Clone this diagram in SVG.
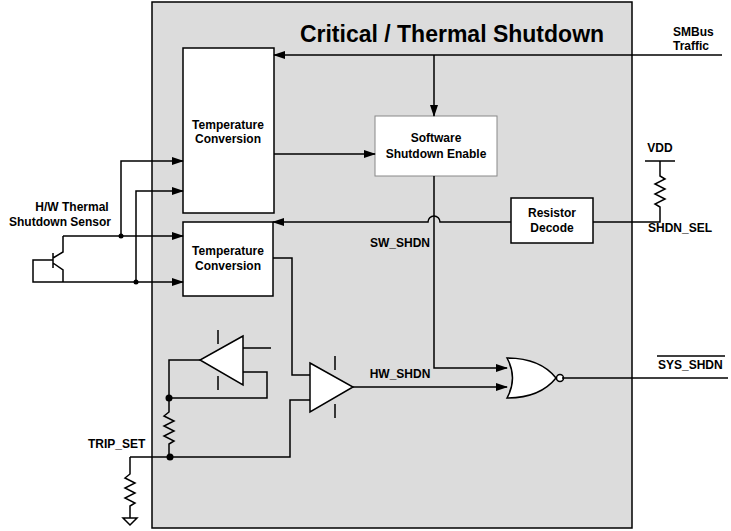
<svg xmlns="http://www.w3.org/2000/svg" width="731" height="531" viewBox="0 0 731 531">
<defs>
<marker id="a" markerWidth="12" markerHeight="8" refX="11" refY="4" orient="auto" markerUnits="userSpaceOnUse"><path d="M0,0 L12,4 L0,8 Z" fill="#000"/></marker>
<style>
.w{fill:none;stroke:#000;stroke-width:1.5}
.b{fill:#fff;stroke:#000;stroke-width:1.5}
.t{font-family:"Liberation Sans",Arial,sans-serif;font-weight:bold;font-size:12px;fill:#000}
.c{text-anchor:middle}
</style>
</defs>
<rect width="731" height="531" fill="#fff"/>
<rect x="152" y="2" width="480" height="526" fill="#dcdcdc" stroke="#000" stroke-width="1.5"/>
<text class="t c" x="452" y="42" style="font-size:23px">Critical / Thermal Shutdown</text>
<g id="tc1"><rect class="b" x="183" y="48" width="91" height="165"/><text class="t c" x="228" y="129">Temperature</text><text class="t c" x="228" y="143">Conversion</text></g>
<g id="tc2"><rect class="b" x="183" y="222" width="90" height="74"/><text class="t c" x="228" y="255">Temperature</text><text class="t c" x="228" y="270">Conversion</text></g>
<g id="sse"><rect x="375" y="116" width="122" height="60" fill="#fff" stroke="#888" stroke-width="1"/><text class="t c" x="436" y="142">Software</text><text class="t c" x="436" y="158">Shutdown Enable</text></g>
<g id="rd"><rect class="b" x="511" y="198" width="82" height="45"/><text class="t c" x="552" y="217">Resistor</text><text class="t c" x="552" y="232">Decode</text></g>
<g id="nor"><path class="b" d="M507,358 Q540,358 556,378 Q540,398 507,398 Q518,378 507,358 Z"/><circle class="b" cx="560" cy="378" r="3.5"/></g>
<g id="comp"><path class="b" d="M310,363 L353,387 L310,412 Z"/><path class="w" d="M335,356 V370 M335,404 V418"/></g>
<g id="buf"><path class="b" d="M243,336 L200,360 L243,385 Z"/><path class="w" d="M218,330 V344 M218,376 V390"/></g>
<g id="sensor"><path class="w" d="M53,253 V268 M53,258 L63,252 V236 M53,263 L63,270 V282 M53,260 H33 V282 H63"/><text class="t c" x="72" y="211">H/W Thermal</text><text class="t c" x="60" y="226">Shutdown  Sensor</text></g>
<g id="connectors">
<path class="w" d="M722,55 H274" marker-end="url(#a)"/>
<path class="w" d="M434,55 V116" marker-end="url(#a)"/>
<path class="w" d="M274,154 H375" marker-end="url(#a)"/>
<path class="w" d="M434,176 V368 H507" marker-end="url(#a)"/>
<path class="w" d="M511,222 H440 A6,6 0 0 0 428,222 H273" marker-end="url(#a)"/>
<path class="w" d="M593,222 H660 V207 L655,204 L665,199 L655,194 L665,189 L655,184 L665,179 L660,176 V161 M645,161 H675"/>
<path class="w" d="M63,236 H183" marker-end="url(#a)"/>
<path class="w" d="M63,282 H183" marker-end="url(#a)"/>
<path class="w" d="M121,236 V161 H183" marker-end="url(#a)"/>
<path class="w" d="M136,282 V191 H183" marker-end="url(#a)"/>
<path class="w" d="M273,258 H292 V375 H310"/>
<path class="w" d="M353,387 H507" marker-end="url(#a)"/>
<path class="w" d="M562,378 H728"/>
<path class="w" d="M243,348 H271 M243,372 H267 V398 H169 M200,360 H169 V398"/>
<path class="w" d="M169,398 V412 L164,416 L174,421 L164,426 L174,431 L164,436 L174,441 L169,444 V457"/>
<path class="w" d="M130,457 H290 V400 H310"/>
<path class="w" d="M130,457 V474 L125,478 L135,483 L125,488 L135,493 L125,498 L135,503 L130,506 V518 M123,518 H137 L130,525 Z"/>
<circle cx="121" cy="236" r="2.5"/><circle cx="136" cy="282" r="2.5"/>
<circle cx="169" cy="398" r="3.5"/><circle cx="170" cy="457" r="3.5"/>
</g>
<text class="t" x="673" y="36">SMBus</text><text class="t" x="673" y="50">Traffic</text>
<text class="t c" x="660" y="152">VDD</text>
<text class="t" x="648" y="232">SHDN_SEL</text>
<text class="t c" x="400" y="247">SW_SHDN</text>
<text class="t c" x="400" y="378">HW_SHDN</text>
<text class="t" x="658" y="383" dy="-14">SYS_SHDN</text><path class="w" d="M657,356 H725" stroke-width="1"/>
<text class="t" x="88" y="448">TRIP_SET</text>
</svg>
